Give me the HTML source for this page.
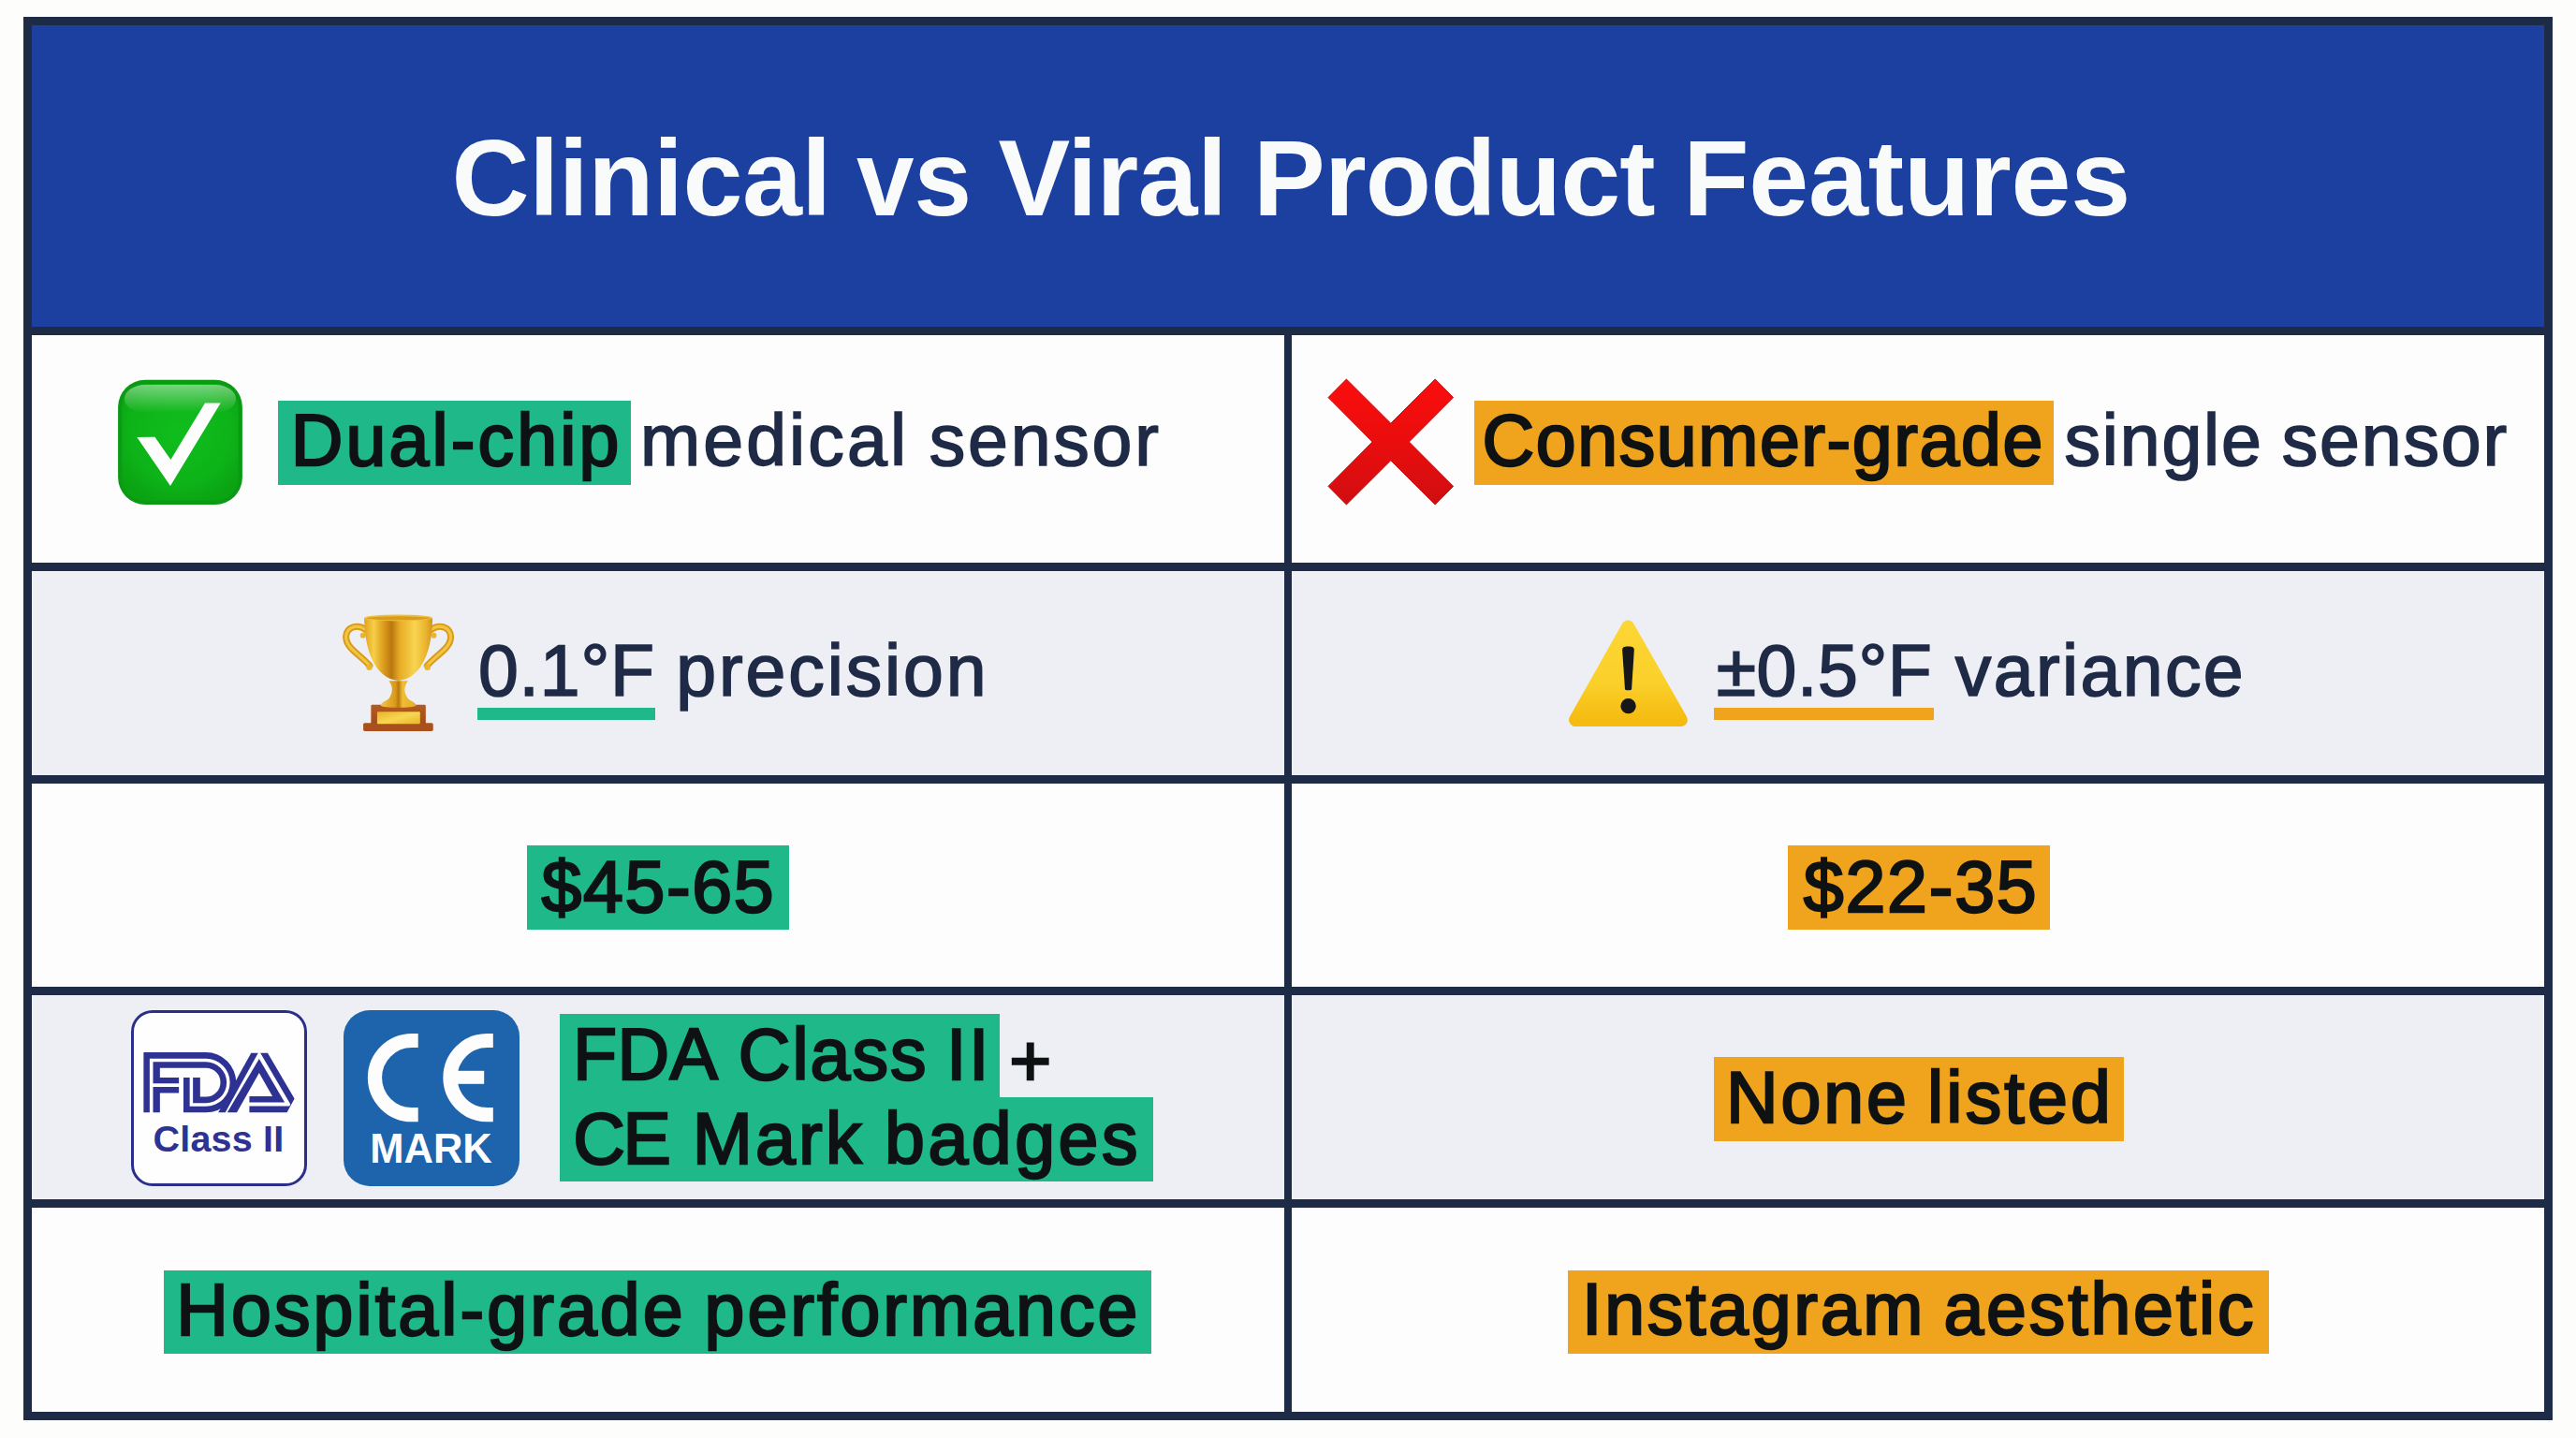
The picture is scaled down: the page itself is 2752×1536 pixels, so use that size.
<!DOCTYPE html>
<html lang="en">
<head>
<meta charset="utf-8">
<title>Clinical vs Viral Product Features</title>
<style>
  html, body { margin: 0; padding: 0; }
  body {
    width: 2752px; height: 1536px; overflow: hidden;
    background: #fdfdfc;
    font-family: "Liberation Sans", sans-serif;
  }
  #stage { position: relative; width: 2752px; height: 1536px; overflow: hidden; background: #fdfdfc; }
  .abs { position: absolute; }
  /* frame + grid */
  .frame { left: 25px; top: 18px; width: 2702px; height: 1499px; background: #1d2b47; }
  .hdr { left: 34px; top: 27px; width: 2684px; height: 322px; background: #1c40a0; }
  .cell { background: #fdfdfd; }
  .cell.g { background: #eeeff4; }
  .cl { left: 34px; width: 1338px; }
  .cr { left: 1380px; width: 1338px; }
  .r1 { top: 358px; height: 243px; }
  .r2 { top: 610px; height: 218px; }
  .r3 { top: 837px; height: 217px; }
  .r4 { top: 1063px; height: 218px; }
  .r5 { top: 1290px; height: 218px; }
  /* text */
  .t { position: absolute; white-space: nowrap; font-size: 77px; line-height: 90px; height: 90px; color: #1e2a46; -webkit-text-stroke: 1.7px #1e2a46; }
  .hl { position: absolute; }
  .gr { background: #1fb888; }
  .or { background: #f0a41d; }
  .k { color: #0e1213; -webkit-text-stroke: 2.4px #0e1213; }
  .title { position: absolute; white-space: nowrap; color: #f9fafa; font-weight: bold; font-size: 116px; line-height: 130px; }
</style>
</head>
<body>
<div id="stage">
  <div class="abs frame"></div>
  <div class="abs hdr"></div>
  <div class="abs cell cl r1"></div><div class="abs cell cr r1"></div>
  <div class="abs cell g cl r2"></div><div class="abs cell g cr r2"></div>
  <div class="abs cell cl r3"></div><div class="abs cell cr r3"></div>
  <div class="abs cell g cl r4"></div><div class="abs cell g cr r4"></div>
  <div class="abs cell cl r5"></div><div class="abs cell cr r5"></div>

  <div class="title" id="title_1" style="left:482.60px; top:125px; letter-spacing:-0.47px; font-size:115px;">Clinical</div><div class="title" id="title_2" style="left:915.1px; top:125px; letter-spacing:0px; font-size:115px; transform:scaleX(0.962); transform-origin:0 0;">vs</div><div class="title" id="title_3" style="left:1066.40px; top:125px; letter-spacing:-0.70px; font-size:115px;">Viral</div><div class="title" id="title_4" style="left:1339.00px; top:125px; letter-spacing:-0.81px; font-size:115px;">Product</div><div class="title" id="title_5" style="left:1798.30px; top:125px; letter-spacing:-0.21px; font-size:115px;">Features</div>


  <!-- ICONS -->
  <!-- check -->
  <svg class="abs" id="ic_check" style="left:120px; top:400px;" width="146" height="146" viewBox="120 400 146 146">
    <defs>
      <radialGradient id="gck" cx="0.5" cy="0.42" r="0.62">
        <stop offset="0" stop-color="#11bd1d"/><stop offset="0.7" stop-color="#0db318"/><stop offset="1" stop-color="#0aa413"/>
      </radialGradient>
      <linearGradient id="gck2" x1="0" y1="0" x2="0" y2="1">
        <stop offset="0" stop-color="#ffffff" stop-opacity="0.44"/><stop offset="1" stop-color="#ffffff" stop-opacity="0"/>
      </linearGradient>
    </defs>
    <rect x="126.1" y="405.8" width="132.8" height="133.1" rx="29" ry="29" fill="#0b9a14"/>
    <rect x="130.3" y="410" width="124.4" height="124.7" rx="25" ry="25" fill="url(#gck)"/>
    <rect x="133" y="411" width="119" height="30" rx="22" ry="20" fill="url(#gck2)"/>
    <path d="M146.3,467 L165.4,466.7 L182.4,490.9 L219,430.6 L235.7,430.4 L182,519 Z" fill="#fdfdfd"/>
  </svg>
  <!-- cross -->
  <svg class="abs" id="ic_cross" style="left:1412px; top:398px;" width="148" height="148" viewBox="1412 398 148 148">
    <defs>
      <linearGradient id="gcr" x1="0" y1="0" x2="0" y2="1">
        <stop offset="0" stop-color="#fb0d0d"/><stop offset="0.55" stop-color="#e80d0e"/><stop offset="1" stop-color="#cf0e10"/>
      </linearGradient>
    </defs>
    <path d="M1438.4,405 L1485.8,452.2 L1533.2,405 L1552.6,424.6 L1505.4,472 L1552.6,519.4 L1533.2,539 L1485.8,491.8 L1438.4,539 L1419,519.4 L1466.2,472 L1419,424.6 Z" fill="url(#gcr)" stroke="#c40c0e" stroke-width="1"/>
  </svg>


  <!-- trophy -->
  <svg class="abs" id="ic_trophy" style="left:355px; top:645px;" width="140" height="145" viewBox="0 0 1388 1438">
    <defs>
      <linearGradient id="gcup" x1="0" y1="0" x2="1" y2="0">
        <stop offset="0" stop-color="#e3a21c"/><stop offset="0.14" stop-color="#f6cf47"/><stop offset="0.30" stop-color="#d9961a"/>
        <stop offset="0.40" stop-color="#b9780f"/><stop offset="0.52" stop-color="#e8ab25"/><stop offset="0.74" stop-color="#f8d450"/>
        <stop offset="0.90" stop-color="#eab42e"/><stop offset="1" stop-color="#d5931a"/>
      </linearGradient>
      <linearGradient id="gstem" x1="0" y1="0" x2="1" y2="0">
        <stop offset="0" stop-color="#f3c640"/><stop offset="0.42" stop-color="#d8981c"/><stop offset="0.5" stop-color="#b9780f"/>
        <stop offset="0.62" stop-color="#f0bd35"/><stop offset="1" stop-color="#e7ab27"/>
      </linearGradient>
      <linearGradient id="gbase" x1="0" y1="0" x2="0" y2="1">
        <stop offset="0" stop-color="#b55a22"/><stop offset="1" stop-color="#a34a18"/>
      </linearGradient>
      <linearGradient id="gplq" x1="0" y1="0" x2="1" y2="1">
        <stop offset="0" stop-color="#e9b32c"/><stop offset="0.5" stop-color="#f8d651"/><stop offset="1" stop-color="#eab52d"/>
      </linearGradient>
    </defs>
    <path d="M352,272 C272,212 150,240 145,348 C142,470 305,545 395,655" fill="none" stroke="#d89a1c" stroke-width="70" stroke-linecap="round"/>
    <path d="M352,272 C272,212 150,240 145,348 C142,470 305,545 395,655" fill="none" stroke="#f2c440" stroke-width="32" stroke-linecap="round"/>
    <path d="M1048,272 C1128,212 1250,240 1255,348 C1258,470 1095,545 1005,655" fill="none" stroke="#d89a1c" stroke-width="70" stroke-linecap="round"/>
    <path d="M1048,272 C1128,212 1250,240 1255,348 C1258,470 1095,545 1005,655" fill="none" stroke="#f2c440" stroke-width="32" stroke-linecap="round"/>
    <circle cx="325" cy="335" r="30" fill="#e9b530"/><circle cx="1075" cy="335" r="30" fill="#e9b530"/>
    <circle cx="392" cy="672" r="32" fill="#e9b530"/><circle cx="1008" cy="672" r="32" fill="#e9b530"/>
    <rect x="410" y="1068" width="580" height="210" rx="14" fill="url(#gbase)"/>
    <rect x="328" y="1262" width="740" height="86" rx="16" fill="#a9501c"/>
    <rect x="475" y="1143" width="455" height="130" rx="10" fill="url(#gplq)"/>
    <path d="M598,815 C640,870 648,930 602,1000 C572,1035 520,1040 512,1075 C520,1105 880,1105 888,1075 C880,1040 828,1035 798,1000 C752,930 760,870 802,815 Z" fill="url(#gstem)"/>
    <path d="M338,150 C340,300 360,450 420,585 C480,720 580,805 700,812 C820,805 920,720 980,585 C1040,450 1058,300 1062,150 Z" fill="url(#gcup)"/>
    <ellipse cx="700" cy="148" rx="362" ry="34" fill="#f1c13a"/>
    <ellipse cx="700" cy="152" rx="335" ry="20" fill="#d89d20"/>
  </svg>
  <!-- warning -->
  <svg class="abs" id="ic_warn" style="left:1665px; top:650px;" width="150" height="140" viewBox="0 0 1541 1438">
    <defs>
      <linearGradient id="gwarn" x1="0" y1="0" x2="0" y2="1">
        <stop offset="0" stop-color="#fcd634"/><stop offset="0.6" stop-color="#fbd02a"/><stop offset="1" stop-color="#f5bb10"/>
      </linearGradient>
    </defs>
    <path d="M762,202 L187,1222 L1343,1222 Z" fill="url(#gwarn)" stroke="url(#gwarn)" stroke-width="146" stroke-linejoin="round"/>
    <path d="M700,455 C700,425 715,415 765,415 C815,415 830,425 830,455 L803,880 C802,893 795,897 766,897 C737,897 730,893 729,880 Z" fill="#17171a"/>
    <circle cx="766" cy="1070" r="84" fill="#17171a"/>
  </svg>


  <!-- FDA badge -->
  <div class="abs" id="fda_box" style="left:139.6px; top:1078.8px; width:188.4px; height:188px; box-sizing:border-box; border:3px solid #2b2f8a; border-radius:23px; background:#fefefe;"></div>
  <svg class="abs" id="fda_logo" style="left:145px; top:1110px;" width="185" height="95" viewBox="145 1110 185 95">
    <g fill="#2e3292">
      <g transform="translate(145,1115) scale(0.069876)">
        <path d="M120,130 H1075 A460,460 0 0 1 1075,1050 H730 V515 H825 V955 H1075 A365,365 0 0 0 1075,225 H213 V1050 H120 Z"/>
        <path d="M265,275 H1075 A315,315 0 0 1 1075,905 H875 V515 H985 V810 H1075 A220,220 0 0 0 1075,370 H370 V515 H660 V605 H265 Z"/>
        <path d="M265,660 H660 V750 H370 V1050 H265 Z"/>
      </g>
      <g transform="translate(230,1118) scale(0.053539)">
        <path d="M715,125 H855 L200,1310 H60 Z"/>
        <path d="M875,245 L240,1310 H430 L875,525 L1140,990 H680 V1110 H1385 Z"/>
        <path d="M900,125 H1045 L1580,1035 L1430,1310 H680 V1185 H1480 L1500,1150 Z"/>
      </g>
    </g>
  </svg>
  <div class="abs" id="fda_txt" style="left:163.5px; top:1192.7px; font-size:39.5px; line-height:46px; font-weight:bold; color:#2e3292; white-space:nowrap; letter-spacing:0.2px;">Class II</div>
  <!-- CE badge -->
  <div class="abs" id="ce_box" style="left:367.1px; top:1078.6px; width:187.9px; height:188.1px; border-radius:28px; background:#1e64ad;"></div>
  <svg class="abs" id="ce_logo" style="left:385px; top:1095px;" width="150" height="110" viewBox="385 1095 150 110">
    <g fill="none" stroke="#fdfdfd" stroke-width="15.2">
      <!-- C: center (440,1151.1) r mid 39.6, cut at x=446.7 -->
      <path d="M446.7,1111.5 L440,1111.5 A39.6,39.6 0 0 0 440,1190.7 L446.7,1190.7"/>
      <path d="M526.8,1111.5 L520.5,1111.5 A39.6,39.6 0 0 0 520.5,1190.7 L526.8,1190.7"/>
    </g>
    <rect x="487" y="1143.8" width="30.2" height="14" fill="#fdfdfd"/>
  </svg>
  <div class="abs" id="ce_txt" style="left:395.3px; top:1201.5px; font-size:43.5px; line-height:50px; font-weight:bold; color:#fdfdfd; white-space:nowrap; letter-spacing:0px;">MARK</div>

  <!-- ROW 1 -->
  <div class="hl gr" style="left:297px; top:428px; width:377px; height:90px;"></div>
  <div class="t k" id="t1a" style="left:310.75px; top:425.3px; letter-spacing:3.15px;">Dual-chip</div>
  <div class="t" id="t1b_1" style="left:684.00px; top:425.4px; letter-spacing:3.11px;">medical</div><div class="t" id="t1b_2" style="left:992.70px; top:425.4px; letter-spacing:2.82px;">sensor</div>

  <div class="hl or" style="left:1575px; top:428px; width:619px; height:90px;"></div>
  <div class="t k" id="t1c" style="left:1583.55px; top:425.3px; letter-spacing:1.61px;">Consumer-grade</div>
  <div class="t" id="t1d_1" style="left:2205.50px; top:425.4px; letter-spacing:1.82px;">single</div><div class="t" id="t1d_2" style="left:2437.70px; top:425.4px; letter-spacing:1.86px;">sensor</div>

  <!-- ROW 2 -->
  <div class="t" id="t2a" style="left:510.95px; top:670.7px; letter-spacing:0.80px;">0.1°F</div>
  <div class="hl gr" style="left:510px; top:756px; width:190px; height:13px;"></div>
  <div class="t" id="t2b" style="left:722.35px; top:670.7px; letter-spacing:2.89px;">precision</div>

  <div class="t" id="t2c" style="left:1833.75px; top:670.7px; letter-spacing:0.60px;">±0.5°F</div>
  <div class="hl or" style="left:1831px; top:756px; width:235px; height:13px;"></div>
  <div class="t" id="t2d" style="left:2088.75px; top:670.7px; letter-spacing:2.41px;">variance</div>

  <!-- ROW 3 -->
  <div class="hl gr" style="left:563px; top:903px; width:280px; height:90px;"></div>
  <div class="t k" id="t3a" style="left:578.55px; top:901.8px; letter-spacing:1.66px;">$45-65</div>
  <div class="hl or" style="left:1910px; top:903px; width:280px; height:90px;"></div>
  <div class="t k" id="t3b" style="left:1926.75px; top:901.8px; letter-spacing:1.82px;">$22-35</div>

  <!-- ROW 4 -->
  <div class="hl gr" style="left:598px; top:1083px; width:470px; height:90px;"></div>
  <div class="hl gr" style="left:598px; top:1172px; width:634px; height:90px;"></div>
  <div class="t k" id="t4a_1" style="left:612.00px; top:1081.3px; letter-spacing:0.41px;">FDA</div><div class="t k" id="t4a_2" style="left:788.80px; top:1081.3px; letter-spacing:2.02px;">Class</div><div class="t k" id="t4a_3" style="left:1011.10px; top:1081.3px; letter-spacing:2.41px;">II</div>
  <div class="t k" id="t4p" style="left:1078.35px; top:1088.3px; letter-spacing:0.00px;">+</div>
  <div class="t k" id="t4b_1" style="left:612.20px; top:1170.5px; letter-spacing:-2.31px;">CE</div><div class="t k" id="t4b_2" style="left:739.70px; top:1170.5px; letter-spacing:3.22px;">Mark</div><div class="t k" id="t4b_3" style="left:945.00px; top:1170.5px; letter-spacing:3.57px;">badges</div>
  <div class="hl or" style="left:1831px; top:1129px; width:438px; height:90px;"></div>
  <div class="t k" id="t4c_1" style="left:1844.10px; top:1127.4px; letter-spacing:2.90px;">None</div><div class="t k" id="t4c_2" style="left:2059.00px; top:1127.4px; letter-spacing:3.22px;">listed</div>

  <!-- ROW 5 -->
  <div class="hl gr" style="left:175px; top:1357px; width:1055px; height:89px;"></div>
  <div class="t k" id="t5a_1" style="left:188.30px; top:1353.9px; letter-spacing:3.12px;">Hospital-grade</div><div class="t k" id="t5a_2" style="left:752.50px; top:1353.9px; letter-spacing:3.06px;">performance</div>
  <div class="hl or" style="left:1675px; top:1357px; width:749px; height:89px;"></div>
  <div class="t k" id="t5b_1" style="left:1690.00px; top:1353.4px; letter-spacing:2.75px;">Instagram</div><div class="t k" id="t5b_2" style="left:2076.40px; top:1353.4px; letter-spacing:2.87px;">aesthetic</div>
</div>
</body>
</html>
